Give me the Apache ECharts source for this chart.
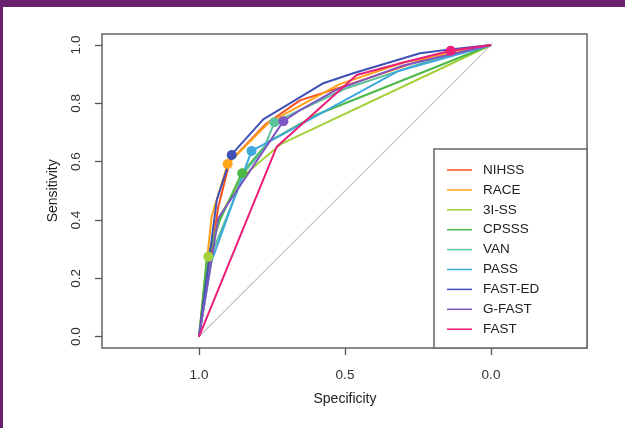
<!DOCTYPE html>
<html>
<head>
<meta charset="utf-8">
<script src="https://cdn.jsdelivr.net/npm/echarts@6/dist/echarts.min.js"></script>
<style>
  html, body { margin: 0; padding: 0; background: #fff; }
  #main { width: 625px; height: 428px; }
  .frame-top { position: absolute; left: 0; top: 0; width: 625px; height: 7px; background: #6b1f6f; }
  .frame-left { position: absolute; left: 0; top: 0; width: 3px; height: 428px; background: #6b1f6f; }
</style>
</head>
<body>
<div id="main"></div>
<div class="frame-top"></div>
<div class="frame-left"></div>
<script>
// ROC curves: [specificity, sensitivity]
var names = ['NIHSS', 'RACE', '3I-SS', 'CPSSS', 'VAN', 'PASS', 'FAST-ED', 'G-FAST', 'FAST'];
var colors = ['#f4511e', '#ffa31a', '#a5d03a', '#4cb848', '#5cc29a', '#3ea8dd', '#3f51b5', '#7e57c2', '#ec1e79'];

var nihss = [[1, 0], [0.935, 0.44], [0.895, 0.6], [0.77, 0.73], [0.654, 0.81], [0.5, 0.86], [0.2, 0.96], [0, 1]];
var race = [[1, 0], [0.957, 0.411], [0.902, 0.592], [0.763, 0.732], [0.52, 0.865], [0.3, 0.94], [0, 1]];
var i3ss = [[1, 0], [0.968, 0.274], [0.93, 0.41], [0.85, 0.55], [0.72, 0.66], [0, 1]];
var cpsss = [[1, 0], [0.974, 0.263], [0.928, 0.4], [0.854, 0.56], [0.76, 0.67], [0.6, 0.76], [0, 1]];
var van = [[1, 0], [0.95, 0.3], [0.84, 0.57], [0.78, 0.64], [0.742, 0.735], [0.5, 0.85], [0.2, 0.95], [0, 1]];
var pass = [[1, 0], [0.96, 0.25], [0.87, 0.5], [0.82, 0.637], [0.72, 0.69], [0.32, 0.91], [0, 1]];
var fasted = [[1, 0], [0.939, 0.469], [0.888, 0.625], [0.78, 0.745], [0.574, 0.869], [0.472, 0.903], [0.243, 0.972], [0.14, 0.985], [0, 1]];
var gfast = [[1, 0], [0.934, 0.406], [0.711, 0.739], [0.654, 0.777], [0.53, 0.846], [0.3, 0.93], [0, 1]];
var fast = [[1, 0], [0.734, 0.651], [0.46, 0.897], [0.3, 0.94], [0.138, 0.98], [0, 1]];
var curves = [nihss, race, i3ss, cpsss, van, pass, fasted, gfast, fast];

// cut-off points (null = not visible)
var cutoffs = [null, [0.902, 0.592], [0.968, 0.274], [0.852, 0.56], [0.742, 0.735], [0.82, 0.637], [0.888, 0.623], [0.711, 0.739], [0.138, 0.98]];

// chance line, spanning the plot box
var diagonal = [[1.039, -0.039], [-0.038, 1.038]];

var myChart = echarts.init(document.getElementById('main'));

var series = [{
  name: 'diag',
  type: 'line',
  symbol: 'none',
  silent: true,
  clip: false,
  lineStyle: { color: '#c4c4c4', width: 1.2 },
  data: diagonal,
  z: 1
}];
curves.forEach(function (c, i) {
  series.push({
    name: names[i],
    type: 'line',
    symbol: 'none',
    clip: false,
    lineStyle: { color: colors[i], width: 2 },
    itemStyle: { color: colors[i] },
    data: c,
    z: 2
  });
});
cutoffs.forEach(function (p, i) {
  if (!p) return;
  series.push({
    name: names[i] + ' cut',
    type: 'scatter',
    symbolSize: 10,
    clip: false,
    itemStyle: { color: colors[i], opacity: 1 },
    data: [p],
    z: 3
  });
});

var font = 'Liberation Sans, Arial, sans-serif';

var option = {
  animation: false,
  // grid spans exactly 0..1 on both axes; the box is wider (R's 4% + asp=1)
  grid: { left: 199, right: 134, top: 45, bottom: 91.3 },
  graphic: [{
    type: 'rect',
    shape: { x: 102, y: 34, width: 485, height: 314 },
    style: { fill: 'none', stroke: '#666', lineWidth: 1.5 },
    silent: true,
    z: 0
  }, {
    type: 'rect',
    shape: { x: 434, y: 149, width: 153, height: 199 },
    style: { fill: '#fff', stroke: '#666', lineWidth: 1.5 },
    silent: true,
    z: 10
  }],
  legend: {
    data: names,
    orient: 'vertical',
    left: 447,
    top: 163,
    padding: 0,
    itemWidth: 25,
    itemHeight: 1.5,
    itemGap: 5.9,
    icon: 'path://M0,0h25v1.5h-25z',
    z: 20,
    textStyle: { fontFamily: font, fontSize: 13.5, lineHeight: 14, color: '#222', padding: [0, 0, 0, 6] }
  },
  xAxis: {
    type: 'value',
    inverse: true,
    min: 0,
    max: 1,
    interval: 0.5,
    offset: 11.3,
    name: 'Specificity',
    nameLocation: 'middle',
    nameGap: 44,
    nameTextStyle: { fontFamily: font, fontSize: 14, color: '#222' },
    axisLine: { show: false, onZero: false },
    splitLine: { show: false },
    axisTick: { show: true, length: 7, lineStyle: { color: '#555', width: 1.3 } },
    axisLabel: {
      margin: 20,
      fontFamily: font, fontSize: 13.5, color: '#333',
      formatter: function (v) { return v.toFixed(1); }
    }
  },
  yAxis: {
    type: 'value',
    min: 0,
    max: 1,
    interval: 0.2,
    offset: 97,
    name: 'Sensitivity',
    nameLocation: 'middle',
    nameGap: 42,
    nameTextStyle: { fontFamily: font, fontSize: 14, color: '#222' },
    axisLine: { show: false, onZero: false },
    splitLine: { show: false },
    axisTick: { show: true, length: 7, lineStyle: { color: '#555', width: 1.3 } },
    axisLabel: {
      margin: 19, rotate: 90,
      fontFamily: font, fontSize: 13.5, color: '#333',
      formatter: function (v) { return v.toFixed(1); }
    }
  },
  series: series
};
myChart.setOption(option);
</script>
</body>
</html>
